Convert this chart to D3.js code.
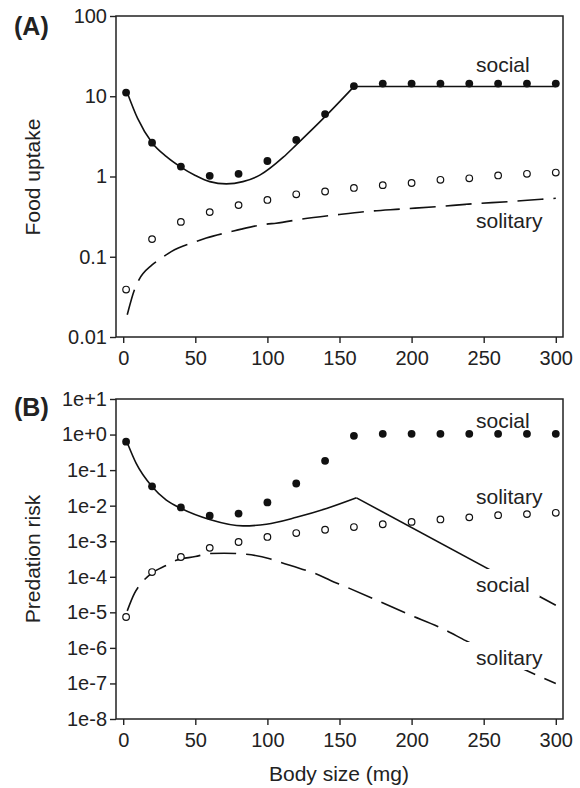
<!DOCTYPE html>
<html>
<head>
<meta charset="utf-8">
<script src="https://cdn.jsdelivr.net/npm/d3@7"></script>
<style>
  body { margin: 0; background: #fff; }
  svg text { font-family: "Liberation Sans", Arial, sans-serif; fill: #222; }
</style>
</head>
<body>
<svg id="chart" width="580" height="788"></svg>
<script>
// Body sizes (mg) where the points were measured
const bodySizes = [2, 20, 40, 60, 80, 100, 120, 140, 160, 180, 200, 220, 240, 260, 280, 300];
const xTicks = [0, 50, 100, 150, 200, 250, 300];

// Panel A - food uptake
const foodTicks = [0.01, 0.1, 1, 10, 100];
const foodTickLabels = ["0.01", "0.1", "1", "10", "100"];
const foodSocialPoints = [11.1, 2.64, 1.33, 1.02, 1.08, 1.56, 2.86, 6.0, 13.4, 14.4, 14.4, 14.4, 14.4, 14.4, 14.4, 14.4];
const foodSolitaryPoints = [0.039, 0.166, 0.272, 0.36, 0.44, 0.51, 0.6, 0.65, 0.72, 0.78, 0.83, 0.91, 0.95, 1.03, 1.08, 1.12];
const foodSocialCurveX = [2.8, 10, 20, 30, 40, 50, 60, 71.5, 83, 95, 111, 120, 140, 160];
const foodSocialCurveY = [11.1, 5.3, 2.64, 1.77, 1.31, 1.03, 0.863, 0.809, 0.863, 1.047, 1.74, 2.48, 5.57, 13.2];
const foodSocialFlatX = [160, 300];
const foodSocialFlatY = [13.2, 13.2];
const foodSolitaryLineX = [2.8, 7.8, 10.9, 20, 26.4, 33.3, 50.7, 57.6, 75, 81.9, 99.3, 106, 123.6, 148, 168.8, 192, 217, 242, 267, 290, 300];
const foodSolitaryLineY = [0.0189, 0.0387, 0.0515, 0.079, 0.096, 0.116, 0.155, 0.171, 0.206, 0.221, 0.255, 0.262, 0.294, 0.333, 0.366, 0.392, 0.42, 0.456, 0.486, 0.52, 0.535];

// Panel B - predation risk
const riskTicks = [1e-8, 1e-7, 1e-6, 1e-5, 1e-4, 1e-3, 1e-2, 1e-1, 1, 10];
const riskTickLabels = ["1e-8", "1e-7", "1e-6", "1e-5", "1e-4", "1e-3", "1e-2", "1e-1", "1e+0", "1e+1"];
const riskSocialPoints = [0.63, 0.035, 0.0089, 0.0052, 0.006, 0.0123, 0.042, 0.183, 0.92, 1.05, 1.05, 1.05, 1.05, 1.05, 1.05, 1.05];
const riskSolitaryPoints = [7.4e-6, 1.36e-4, 3.6e-4, 6.5e-4, 9.5e-4, 1.32e-3, 1.7e-3, 2.1e-3, 2.5e-3, 3.0e-3, 3.5e-3, 4.1e-3, 4.7e-3, 5.4e-3, 5.8e-3, 6.3e-3];
const riskSocialCurveX = [2.8, 9, 20.1, 29.9, 40.3, 59.9, 83.1, 99.3, 120.1, 141, 161.8];
const riskSocialCurveY = [0.587, 0.154, 0.0339, 0.0143, 0.0083, 0.0041, 0.0027, 0.0030, 0.0047, 0.0083, 0.0166];
const riskSocialFallX = [161.8, 300];
const riskSocialFallY = [0.0166, 1.58e-5];
const riskSolitaryLineX = [2.8, 7.8, 12.4, 19.4, 29.9, 36.8, 50, 59.9, 70, 78.5, 85.4, 101.6, 108.5, 127, 134, 143.8, 152.6, 172.7, 197, 221.3, 237.5, 285, 300];
const riskSolitaryLineY = [1.1e-5, 3.4e-5, 6.5e-5, 1.23e-4, 2.1e-4, 2.9e-4, 3.7e-4, 4.5e-4, 4.6e-4, 4.5e-4, 4.3e-4, 3.2e-4, 2.6e-4, 1.5e-4, 1.2e-4, 7.9e-5, 5.6e-5, 2.5e-5, 9.1e-6, 3.5e-6, 1.6e-6, 1.85e-7, 1.0e-7];

const ink = "#222";
const svg = d3.select("#chart");
const left = 116, right = 563;
const x = d3.scaleLinear().domain([-5, 305]).range([left, right]);

const pairs = (xs, ys) => xs.map((v, i) => [v, ys[i]]);

function drawPanel(p) {
  const y = d3.scaleLog().domain(p.yDomain).range([p.bottom, p.top]);
  const g = svg.append("g");

  // axes (ticks outward, no domain line; the frame is drawn separately)
  const xAxis = g.append("g")
    .attr("transform", `translate(0,${p.bottom})`)
    .call(d3.axisBottom(x).tickValues(xTicks).tickSize(6).tickPadding(8).tickSizeOuter(0));
  const yAxis = g.append("g")
    .attr("transform", `translate(${left},0)`)
    .call(d3.axisLeft(y).tickValues(p.yTicks)
      .tickFormat((d, i) => p.yTickLabels[i]).tickSize(6).tickPadding(3).tickSizeOuter(0));

  [xAxis, yAxis].forEach(a => {
    a.select(".domain").remove();
    a.attr("font-family", null).attr("font-size", null);
    a.selectAll("line").attr("stroke", ink).attr("stroke-width", 1.4);
    a.selectAll("text").style("font-size", "20px").attr("fill", ink);
  });

  g.append("rect")
    .attr("x", left).attr("y", p.top)
    .attr("width", right - left).attr("height", p.bottom - p.top)
    .attr("fill", "none").attr("stroke", ink).attr("stroke-width", 1.5);

  // model curves
  p.lines.forEach(l => {
    const line = d3.line()
      .x(d => x(d[0])).y(d => y(d[1]))
      .curve(l.smooth ? d3.curveMonotoneX : d3.curveLinear);
    g.append("path")
      .datum(pairs(l.xs, l.ys))
      .attr("d", line)
      .attr("fill", "none")
      .attr("stroke", "#111")
      .attr("stroke-width", 1.6)
      .attr("stroke-dasharray", l.dashed ? "26,10" : null);
  });

  // curve labels with a white box that hides the line behind them
  p.labels.forEach(lb => {
    const lg = g.append("g");
    const bg = lg.append("rect").attr("fill", "#fff");
    const t = lg.append("text")
      .attr("x", lb.x).attr("y", lb.y)
      .style("font-size", "21px")
      .text(lb.text);
    const bb = t.node().getBBox();
    bg.attr("x", bb.x - 10).attr("y", bb.y - 4)
      .attr("width", bb.width + 20).attr("height", bb.height + 5);
  });

  // observed points
  g.selectAll(".solo").data(pairs(bodySizes, p.solitary)).join("circle")
    .attr("cx", d => x(d[0])).attr("cy", d => y(d[1]))
    .attr("r", 3.3).attr("fill", "#fff").attr("stroke", "#111").attr("stroke-width", 1.2);
  g.selectAll(".soc").data(pairs(bodySizes, p.social)).join("circle")
    .attr("cx", d => x(d[0])).attr("cy", d => y(d[1]))
    .attr("r", 3.9).attr("fill", "#111");

  // panel letter and y title
  svg.append("text")
    .attr("x", 14).attr("y", p.letterY)
    .style("font-size", "25px").style("font-weight", "bold")
    .text(p.letter);
  svg.append("text")
    .attr("transform", `translate(40,${p.titleY}) rotate(-90)`)
    .attr("text-anchor", "middle")
    .style("font-size", "21px")
    .text(p.title);
}

drawPanel({
  top: 16, bottom: 337,
  yDomain: [0.01, 100], yTicks: foodTicks, yTickLabels: foodTickLabels,
  social: foodSocialPoints, solitary: foodSolitaryPoints,
  lines: [
    { xs: foodSocialCurveX, ys: foodSocialCurveY, smooth: true },
    { xs: foodSocialFlatX, ys: foodSocialFlatY },
    { xs: foodSolitaryLineX, ys: foodSolitaryLineY, smooth: true, dashed: true }
  ],
  labels: [
    { text: "social", x: 476, y: 72 },
    { text: "solitary", x: 476, y: 228 }
  ],
  letter: "(A)", letterY: 35,
  title: "Food uptake", titleY: 177
});

drawPanel({
  top: 399, bottom: 719,
  yDomain: [1e-8, 10], yTicks: riskTicks, yTickLabels: riskTickLabels,
  social: riskSocialPoints, solitary: riskSolitaryPoints,
  lines: [
    { xs: riskSocialCurveX, ys: riskSocialCurveY, smooth: true },
    { xs: riskSocialFallX, ys: riskSocialFallY },
    { xs: riskSolitaryLineX, ys: riskSolitaryLineY, smooth: true, dashed: true }
  ],
  labels: [
    { text: "social", x: 476, y: 428 },
    { text: "solitary", x: 476, y: 504 },
    { text: "social", x: 476, y: 592 },
    { text: "solitary", x: 476, y: 665 }
  ],
  letter: "(B)", letterY: 416,
  title: "Predation risk", titleY: 559
});

svg.append("text")
  .attr("x", 339).attr("y", 781)
  .attr("text-anchor", "middle")
  .style("font-size", "21px")
  .text("Body size (mg)");
</script>
</body>
</html>
